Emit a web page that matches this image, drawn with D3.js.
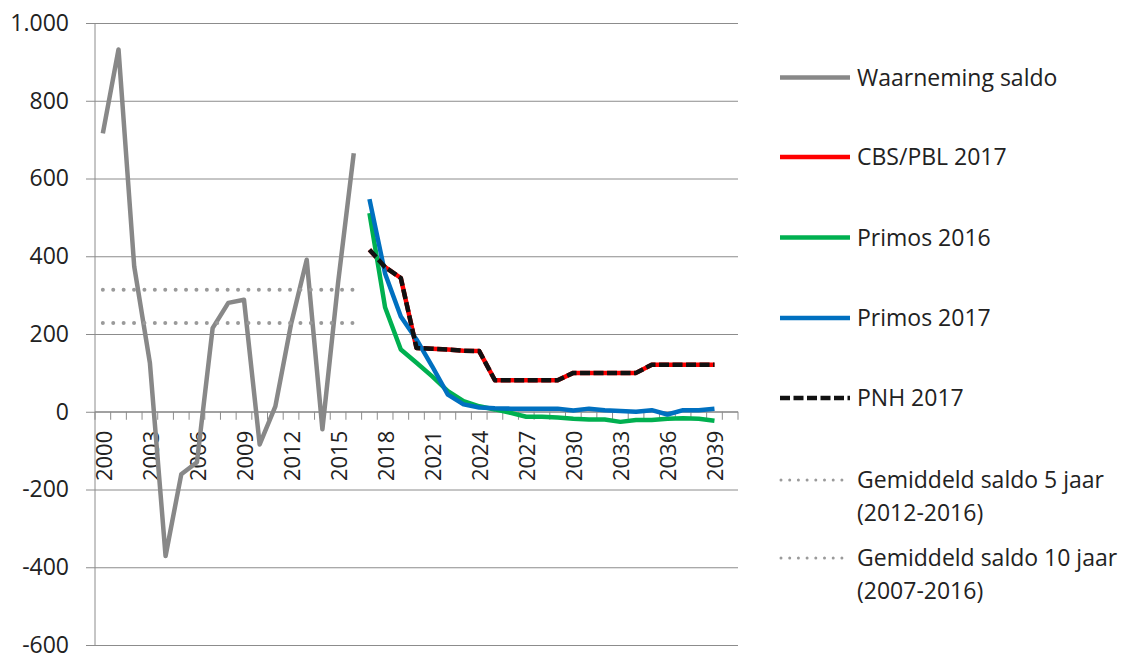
<!DOCTYPE html>
<html>
<head>
<meta charset="utf-8">
<script src="https://cdn.jsdelivr.net/npm/d3@7"></script>
<style>
  body { margin: 0; background: #fff; }
  text { font-family: "Open Sans", sans-serif; fill: #222; }
</style>
</head>
<body>
<script>
// categories on the x axis (the last one is empty)
const years = d3.range(2000, 2041);
const labelYears = [2000, 2003, 2006, 2009, 2012, 2015, 2018, 2021, 2024, 2027, 2030, 2033, 2036, 2039];
const yTicks = [-600, -400, -200, 0, 200, 400, 600, 800, 1000];

// observed balance 2000-2016
const obsYears = d3.range(2000, 2017);
const waarneming = [716, 932, 374, 126, -371, -161, -130, 215, 280, 288, -84, 14, 225, 391, -45, 332, 665];

// forecasts 2017-2039
const fcYears = d3.range(2017, 2040);
const cbsPbl2017 = [417, 372, 344, 164, 162, 160, 157, 156, 81, 81, 81, 81, 81, 100, 100, 100, 100, 100, 121, 121, 121, 121, 121];
const primos2016 = [511, 268, 160, 126, 91, 53, 27, 14, 6, -3, -13, -13, -15, -18, -20, -20, -26, -21, -21, -18, -17, -18, -23];
const primos2017 = [547, 355, 245, 186, 117, 44, 19, 11, 9, 8, 8, 8, 8, 3, 8, 4, 2, 0, 4, -7, 4, 4, 8];
const pnh2017 = [417, 372, 344, 164, 162, 160, 157, 156, 81, 81, 81, 81, 81, 100, 100, 100, 100, 100, 121, 121, 121, 121, 121];

// averages over 2000-2016
const avg5 = 314;   // 2012-2016
const avg10 = 228;  // 2007-2016

const svgWidth = 1123, svgHeight = 654;
const plotLeft = 95, plotRight = 738, plotTop = 23, plotBottom = 645;

const svg = d3.select("body").append("svg")
    .attr("width", svgWidth)
    .attr("height", svgHeight);

const x = d3.scaleBand().domain(years).range([plotLeft, plotRight]).padding(0);
const bw = x.bandwidth();
const cx = yr => x(yr) + bw / 2;
const y = d3.scaleLinear().domain([-600, 1000]).range([plotBottom, plotTop]);

const nl = d3.formatLocale({decimal: ",", thousands: ".", grouping: [3], currency: ["€", ""], minus: "-"});
const fmt = nl.format(",d");

// gridlines + y labels
const yAxis = d3.axisLeft(y)
    .tickValues(yTicks)
    .tickSize(-(plotRight - plotLeft + 9))
    .tickPadding(17)
    .tickFormat(fmt);

const gy = svg.append("g")
    .attr("transform", `translate(${plotLeft - 9},0)`)
    .call(yAxis);
gy.select(".domain").remove();
gy.selectAll("line").attr("stroke", "#8c8c8c").attr("stroke-width", 1);
gy.selectAll("text").attr("font-size", 23).attr("fill", "#222")
    .attr("font-family", "Open Sans, sans-serif");

// vertical axis line
svg.append("line")
    .attr("x1", plotLeft).attr("x2", plotLeft)
    .attr("y1", plotTop).attr("y2", plotBottom)
    .attr("stroke", "#8c8c8c");

// x axis at zero with boundary ticks
const y0 = y(0);
svg.append("line")
    .attr("x1", plotLeft).attr("x2", plotRight)
    .attr("y1", y0).attr("y2", y0)
    .attr("stroke", "#8c8c8c");

svg.append("g").selectAll("line")
    .data(years.concat([null]))
    .join("line")
    .attr("x1", d => d === null ? plotRight : x(d))
    .attr("x2", d => d === null ? plotRight : x(d))
    .attr("y1", y0).attr("y2", y0 + 8)
    .attr("stroke", "#8c8c8c");

svg.append("g").selectAll("text")
    .data(labelYears)
    .join("text")
    .attr("transform", d => `translate(${cx(d) + 1},${y0 + 19}) rotate(-90)`)
    .attr("text-anchor", "end")
    .attr("dy", "0.35em")
    .attr("font-size", 22)
    .text(d => d);

// series
const line = d3.line().x(d => cx(d[0])).y(d => y(d[1]));
const zip = (ks, vs) => ks.map((k, i) => [k, vs[i]]);

function drawLine(pts, color, width, dash) {
    svg.append("path")
        .datum(pts)
        .attr("d", line)
        .attr("fill", "none")
        .attr("stroke", color)
        .attr("stroke-width", width)
        .attr("stroke-linejoin", "round")
        .attr("stroke-linecap", dash === "0,10.4" ? "round" : "butt")
        .attr("stroke-dasharray", dash || null);
}

drawLine(zip(obsYears, waarneming), "#888888", 4.5);
drawLine(zip(fcYears, cbsPbl2017), "#ff0000", 4.5);
drawLine(zip(fcYears, primos2016), "#00b050", 4.5);
drawLine(zip(fcYears, primos2017), "#0070c0", 4.5);
drawLine(zip(fcYears, pnh2017), "#111111", 4.5, "10,3.5");
drawLine([[2000, avg5], [2016, avg5]], "#9a9a9a", 4, "0,10.4");
drawLine([[2000, avg10], [2016, avg10]], "#9a9a9a", 4, "0,10.4");

// legend
const legend = [
    {label: ["Waarneming saldo"], color: "#888888", y: 77.5},
    {label: ["CBS/PBL 2017"], color: "#ff0000", y: 157},
    {label: ["Primos 2016"], color: "#00b050", y: 237.5},
    {label: ["Primos 2017"], color: "#0070c0", y: 318},
    {label: ["PNH 2017"], color: "#111111", y: 398, dash: "10,3.5"},
    {label: ["Gemiddeld saldo 5 jaar", "(2012-2016)"], color: "#9a9a9a", y: 480, dot: true},
    {label: ["Gemiddeld saldo 10 jaar", "(2007-2016)"], color: "#9a9a9a", y: 558, dot: true}
];

const lg = svg.append("g").selectAll("g")
    .data(legend)
    .join("g")
    .attr("transform", d => `translate(0,${d.y})`);

lg.append("line")
    .attr("x1", d => d.dot ? 781 : 780)
    .attr("x2", d => d.dot ? 843 : 850)
    .attr("stroke", d => d.color)
    .attr("stroke-width", d => d.dot ? 3 : 4.5)
    .attr("stroke-linecap", d => d.dot ? "round" : "butt")
    .attr("stroke-dasharray", d => d.dot ? "0,8.7" : (d.dash || null));

lg.each(function(d) {
    const t = d3.select(this).append("text")
        .attr("x", 857)
        .attr("font-size", 23);
    d.label.forEach((s, i) => {
        t.append("tspan")
            .attr("x", 857)
            .attr("y", i * 33)
            .attr("dy", "0.35em")
            .text(s);
    });
});
</script>
</body>
</html>
